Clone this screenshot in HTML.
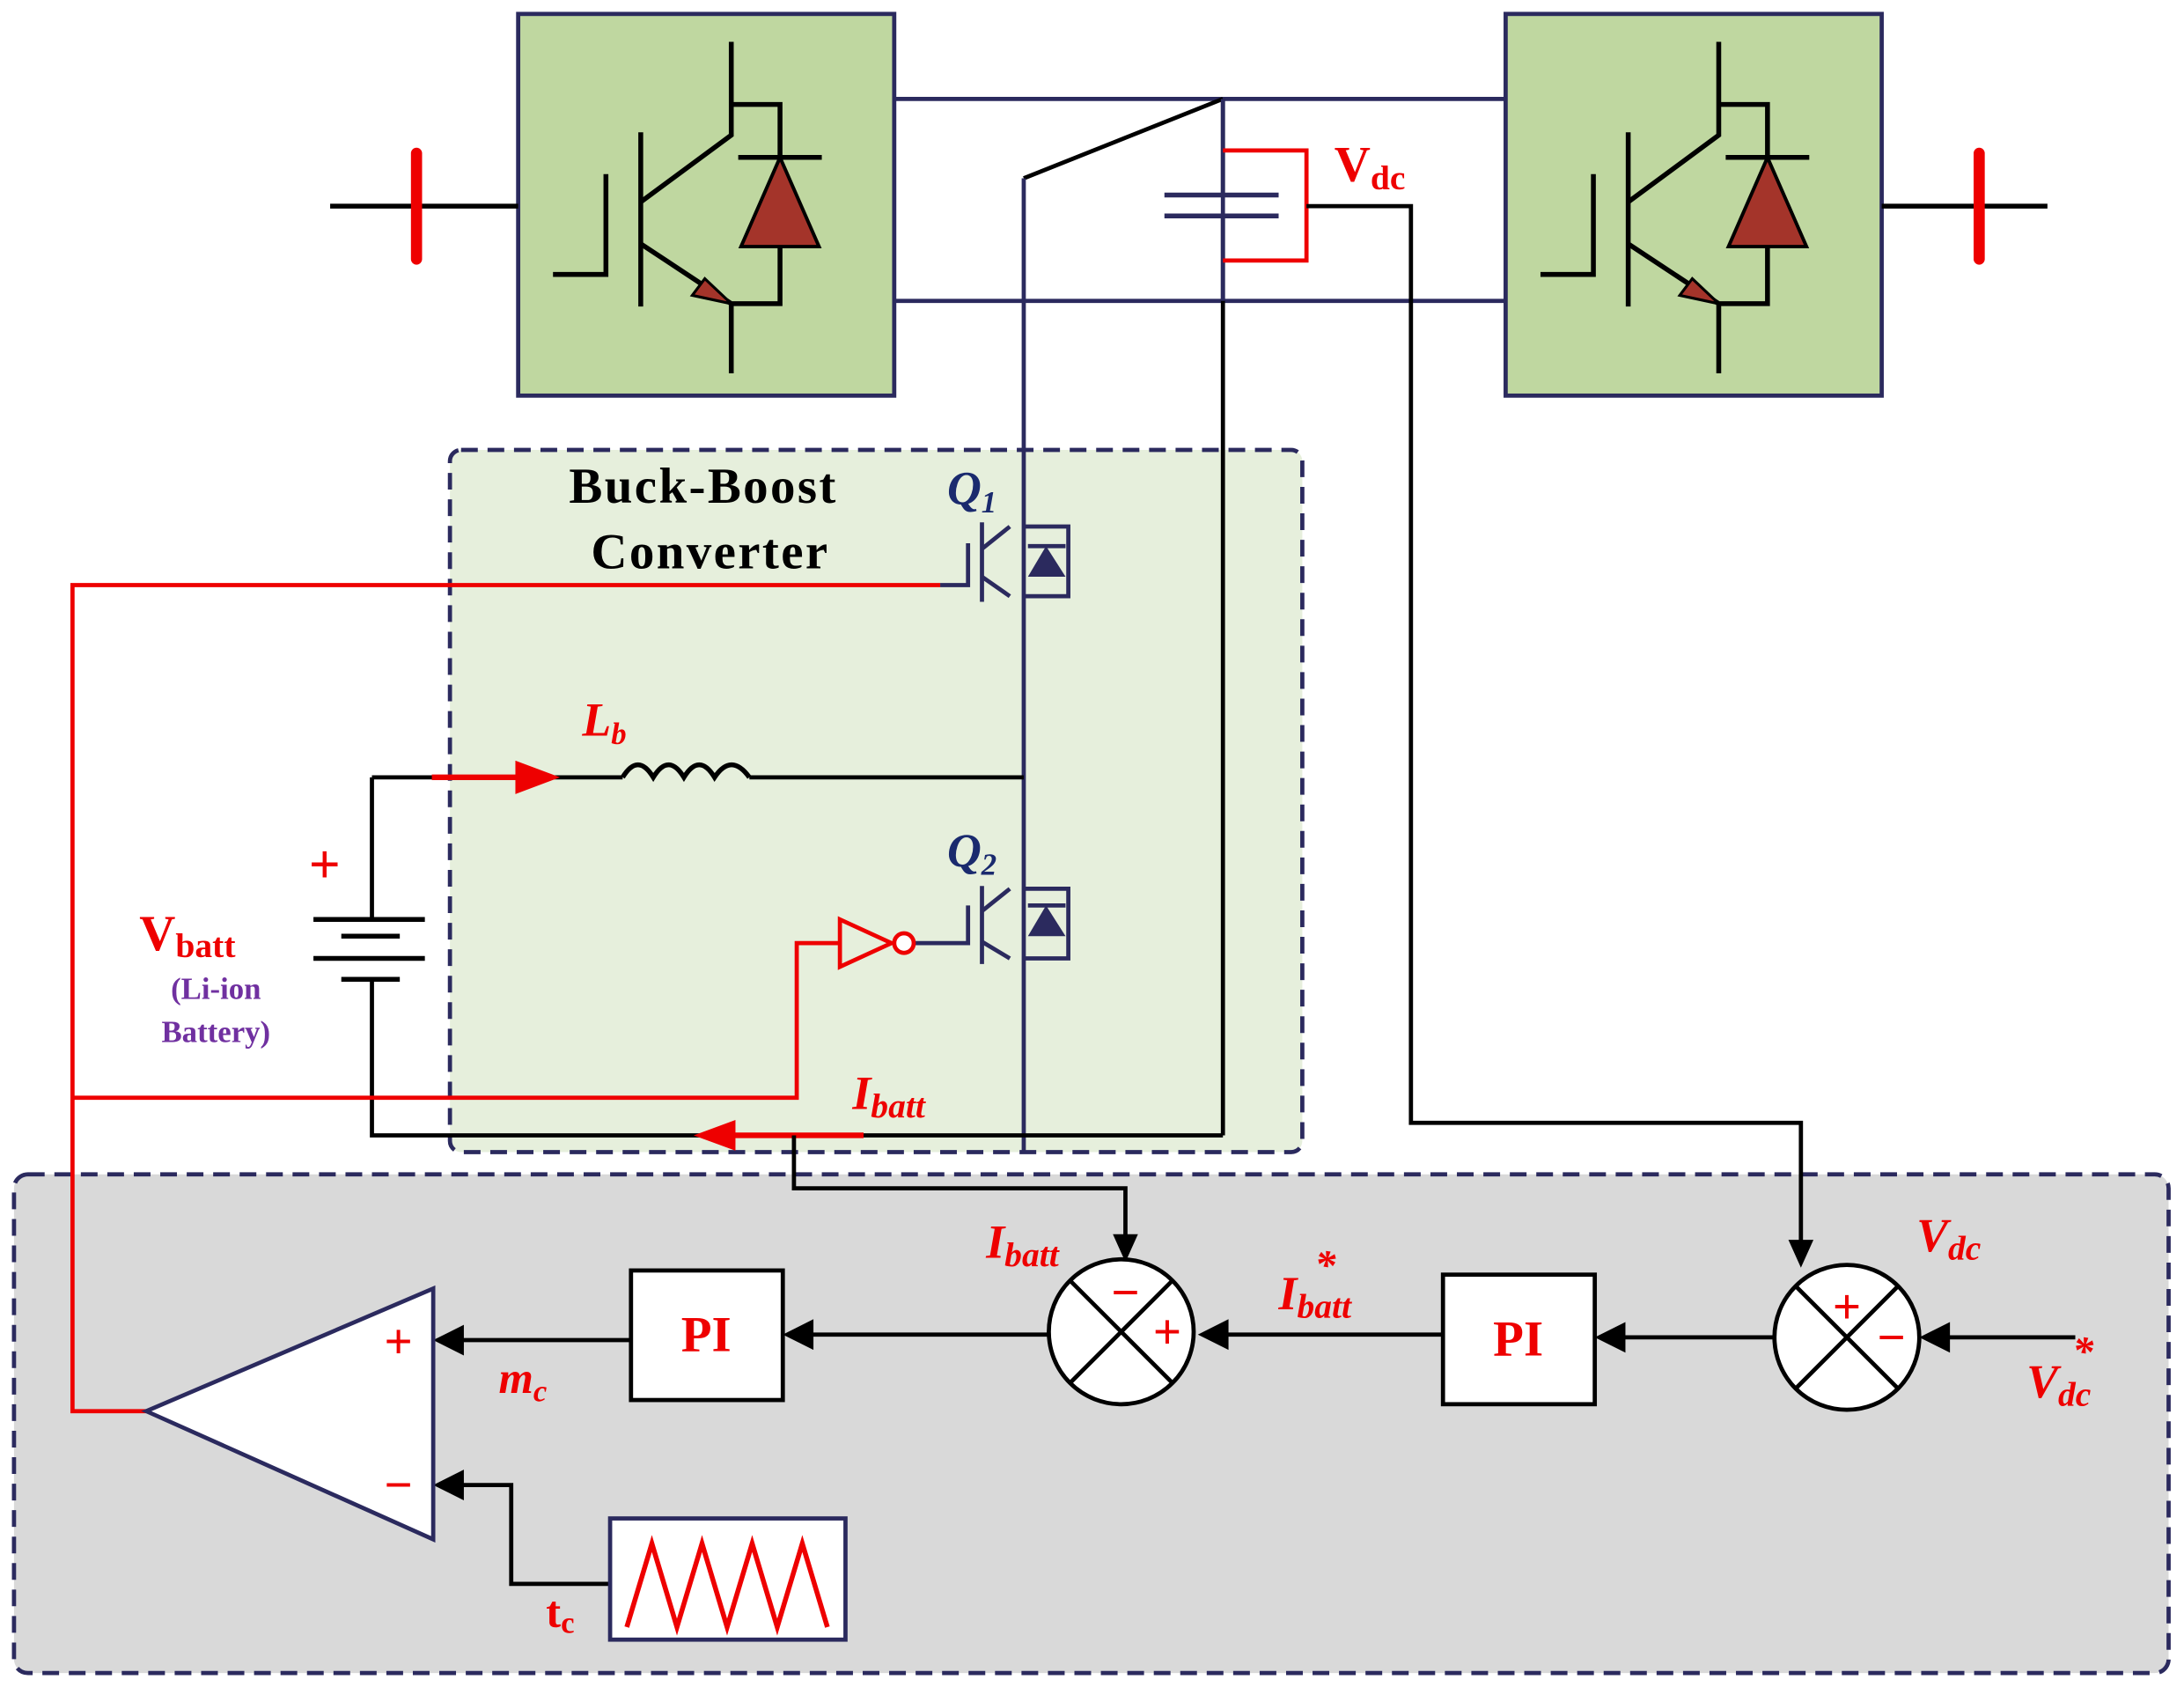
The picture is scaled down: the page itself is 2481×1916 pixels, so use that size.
<!DOCTYPE html>
<html><head><meta charset="utf-8"><style>
html,body{margin:0;padding:0;background:#fff;}
svg{display:block;}
text{font-family:"Liberation Serif",serif;font-weight:bold;}
</style></head><body>
<svg width="2481" height="1916" viewBox="0 0 1568 1211" xmlns="http://www.w3.org/2000/svg">
<!-- control box -->
<rect x="10" y="843" width="1547" height="358" rx="10" fill="#d9d9d9" stroke="#2b2a5e" stroke-width="3" stroke-dasharray="12,7"/>
<!-- buck boost box -->
<rect x="323" y="323" width="612" height="504" rx="8" fill="#e6efdc" stroke="#2b2a5e" stroke-width="3" stroke-dasharray="12,7"/>

<!-- inverter boxes -->
<g id="inv">
<rect x="372" y="10" width="270" height="274" fill="#bfd7a0" stroke="#2b2a5e" stroke-width="3"/>
<g stroke="#000" stroke-width="3.5" fill="none">
<path d="M397,197 H435 V125"/>
<path d="M460,95 V220"/>
<path d="M460,145 L525,97 V30 M525,75 H560 V113"/>
<path d="M530,113 H590"/>
<path d="M460,175 L525,218 V268 M525,218 H560 V177"/>
</g>
<path d="M560,113 L532,177 H588 Z" fill="#a4342a" stroke="#000" stroke-width="2.5"/>
<path d="M525,218 L497,212 L506,200 Z" fill="#a4342a" stroke="#000" stroke-width="2"/>
</g>
<use href="#inv" transform="translate(709,0)"/>

<!-- AC lines -->
<path d="M237,148 H372 M1351,148 H1470" stroke="#000" stroke-width="3.5"/>
<path d="M299,110 V186 M1421,110 V186" stroke="#e00" stroke-width="8" stroke-linecap="round"/>

<!-- DC bus -->
<path d="M642,71 H1081 M642,216 H1081" stroke="#2b2a5e" stroke-width="3"/>
<path d="M878,71 L735,128" stroke="#000" stroke-width="3"/>
<path d="M735,128 V828" stroke="#2b2a5e" stroke-width="3"/>
<path d="M878,71 V140 M878,155 V815" stroke="#000" stroke-width="3"/>
<path d="M878,71 V216" stroke="#2b2a5e" stroke-width="3"/>
<path d="M836,140 H918 M836,155 H918" stroke="#2b2a5e" stroke-width="3.5"/>
<path d="M878,108 H938 V187 H878" stroke="#e00" stroke-width="3" fill="none"/>
<path d="M938,148 H1013 V806 H1293 V895" stroke="#000" stroke-width="3" fill="none"/>
<path d="M1284,890 L1293,910 L1302,890 Z" fill="#000"/>
<text x="958" y="130" font-size="36" fill="#e00">V<tspan font-size="25" dy="6">dc</tspan></text>

<!-- Q1 -->
<g stroke="#2b2a5e" stroke-width="3" fill="none">
<path d="M675,420 H695 V390"/>
<path d="M705,375 V432"/>
<path d="M705,394 L725,378 M705,414 L725,428"/>
<path d="M735,378 H767 V428 H735"/>
</g>
<path d="M751,392 L738,414 H765 Z" fill="#2b2a5e"/>
<path d="M738,392 H765" stroke="#2b2a5e" stroke-width="3"/>
<text x="680" y="362" font-size="34" font-style="italic" fill="#1a2a6e">Q<tspan font-size="22" dy="6">1</tspan></text>
<!-- Q2 -->
<g stroke="#2b2a5e" stroke-width="3" fill="none">
<path d="M657,677 H695 V650"/>
<path d="M705,636 V692"/>
<path d="M705,654 L725,638 M705,676 L725,688"/>
<path d="M735,638 H767 V688 H735"/>
</g>
<path d="M751,650 L738,672 H765 Z" fill="#2b2a5e"/>
<path d="M738,650 H765" stroke="#2b2a5e" stroke-width="3"/>
<text x="680" y="622" font-size="34" font-style="italic" fill="#1a2a6e">Q<tspan font-size="22" dy="6">2</tspan></text>

<text x="505" y="361" font-size="36" text-anchor="middle" fill="#000" letter-spacing="1.5">Buck-Boost</text>
<text x="510" y="408" font-size="36" text-anchor="middle" fill="#000" letter-spacing="1.5">Converter</text>

<!-- inductor line -->
<path d="M267,558 H447 M538,558 H735" stroke="#000" stroke-width="3" fill="none"/>
<path d="M447,558 q11,-18 22,0 q11,-18 22,0 q11,-18 22,0 q12,-18 25,0" stroke="#000" stroke-width="3.5" fill="none"/>
<path d="M310,558 H375" stroke="#e00" stroke-width="4"/>
<path d="M370,546 L402,558 L370,570 Z" fill="#e00"/>
<text x="418" y="528" font-size="34" font-style="italic" fill="#e00">L<tspan font-size="22" dy="6">b</tspan></text>

<!-- battery -->
<path d="M267,558 V660 M267,703 V815 H878" stroke="#000" stroke-width="3" fill="none"/>
<path d="M225,660 H305 M245,672 H287 M225,688 H305 M245,703 H287" stroke="#000" stroke-width="3.5"/>
<text x="233" y="634" font-size="40" fill="#e00" text-anchor="middle">+</text>
<text x="100" y="682" font-size="36" fill="#e00">V<tspan font-size="25" dy="5">batt</tspan></text>
<text x="155" y="717" font-size="22" fill="#7030a0" text-anchor="middle">(Li-ion</text>
<text x="155" y="748" font-size="22" fill="#7030a0" text-anchor="middle">Battery)</text>

<!-- red gate lines -->
<path d="M675,420 H52 V1013 H105" stroke="#e00" stroke-width="3" fill="none"/>
<path d="M52,788 H572 V677 H603" stroke="#e00" stroke-width="3" fill="none"/>
<path d="M603,660 L640,677 L603,694 Z" fill="none" stroke="#e00" stroke-width="3"/>
<circle cx="649" cy="677" r="7" fill="#fff" stroke="#e00" stroke-width="3"/>

<!-- Ibatt -->
<path d="M620,815 H520" stroke="#e00" stroke-width="4"/>
<path d="M528,804 L498,815 L528,826 Z" fill="#e00"/>
<text x="612" y="796" font-size="34" font-style="italic" fill="#e00">I<tspan font-size="25" dy="6">batt</tspan></text>
<path d="M570,815 V853 H808 V892" stroke="#000" stroke-width="3" fill="none"/>
<path d="M799,886 L808,906 L817,886 Z" fill="#000"/>

<!-- summers -->
<g stroke="#000" stroke-width="3" fill="#fff">
<circle cx="805" cy="956" r="52"/>
<circle cx="1326" cy="960" r="52"/>
</g>
<path d="M768,919 L842,993 M842,919 L768,993 M1289,923 L1363,997 M1363,923 L1289,997" stroke="#000" stroke-width="3"/>
<text x="808" y="940" font-size="36" fill="#e00" text-anchor="middle">−</text>
<text x="838" y="968" font-size="36" fill="#e00" text-anchor="middle">+</text>
<text x="1326" y="950" font-size="36" fill="#e00" text-anchor="middle">+</text>
<text x="1358" y="972" font-size="36" fill="#e00" text-anchor="middle">−</text>
<text x="708" y="903" font-size="34" font-style="italic" fill="#e00">I<tspan font-size="25" dy="6">batt</tspan></text>
<text x="918" y="940" font-size="34" font-style="italic" fill="#e00">I<tspan font-size="25" dy="6">batt</tspan></text>
<text x="944" y="918" font-size="30" font-style="italic" fill="#e00">*</text>
<text x="1376" y="898" font-size="34" font-style="italic" fill="#e00">V<tspan font-size="25" dy="6">dc</tspan></text>
<text x="1455" y="1003" font-size="34" font-style="italic" fill="#e00">V<tspan font-size="25" dy="6">dc</tspan></text>
<text x="1488" y="980" font-size="30" font-style="italic" fill="#e00">*</text>

<!-- PI boxes -->
<rect x="453" y="912" width="109" height="93" fill="#fff" stroke="#000" stroke-width="3"/>
<rect x="1036" y="915" width="109" height="93" fill="#fff" stroke="#000" stroke-width="3"/>
<text x="507" y="970" font-size="36" fill="#e00" text-anchor="middle">PI</text>
<text x="1090" y="973" font-size="36" fill="#e00" text-anchor="middle">PI</text>

<!-- arrows -->
<g stroke="#000" stroke-width="3" fill="none">
<path d="M753,958 H580"/>
<path d="M1036,958 H878"/>
<path d="M1274,960 H1162"/>
<path d="M1490,960 H1396"/>
<path d="M453,962 H328"/>
<path d="M438,1137 H367 V1066 H328"/>
</g>
<g fill="#000">
<path d="M584,947 L562,958 L584,969 Z"/>
<path d="M882,947 L860,958 L882,969 Z"/>
<path d="M1167,949 L1145,960 L1167,971 Z"/>
<path d="M1400,949 L1378,960 L1400,971 Z"/>
<path d="M333,951 L311,962 L333,973 Z"/>
<path d="M333,1055 L311,1066 L333,1077 Z"/>
</g>

<!-- comparator -->
<path d="M311,925 L311,1105 L105,1013 Z" fill="#fff" stroke="#2b2a5e" stroke-width="3"/>
<text x="286" y="975" font-size="36" fill="#e00" text-anchor="middle">+</text>
<text x="286" y="1078" font-size="36" fill="#e00" text-anchor="middle">−</text>
<text x="358" y="1000" font-size="32" font-style="italic" fill="#e00">m<tspan font-size="22" dy="6">c</tspan></text>
<text x="392" y="1168" font-size="32" fill="#e00">t<tspan font-size="22" dy="4">c</tspan></text>

<!-- sawtooth -->
<rect x="438" y="1090" width="169" height="87" fill="#fff" stroke="#2b2a5e" stroke-width="3"/>
<path d="M450,1168 L468,1108 L486,1168 L504,1108 L522,1168 L540,1108 L558,1168 L576,1108 L594,1168" fill="none" stroke="#e00" stroke-width="3.5"/>
</svg>
</body></html>
